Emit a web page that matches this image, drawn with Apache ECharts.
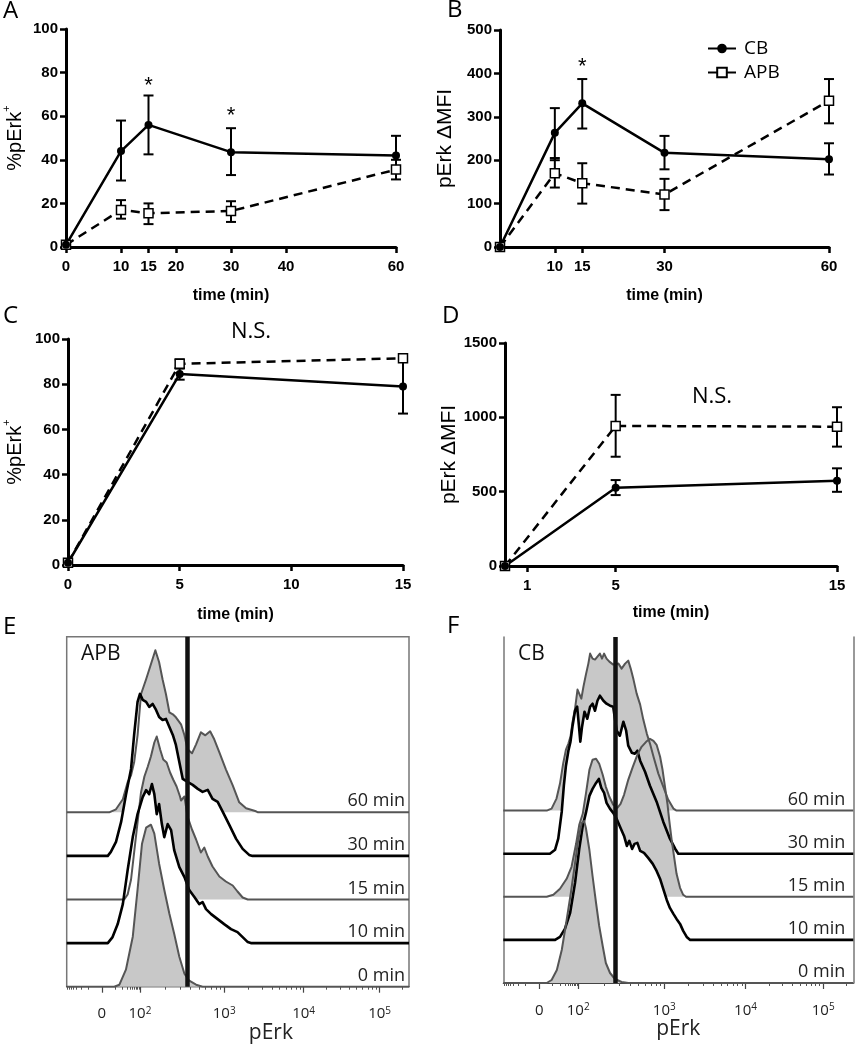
<!DOCTYPE html>
<html><head><meta charset="utf-8">
<script src="https://cdn.jsdelivr.net/npm/echarts@6.0.0/dist/echarts.min.js"></script>
<style>html,body{margin:0;padding:0;background:#fff}#c{width:858px;height:1050px}</style>
</head><body><div id="c"></div>
<script>
// ---------- Panel A / B (time course 0-60 min) ----------
const timeAB = [0, 10, 15, 30, 60];
const cbA = [1, 44, 56, 43.5, 42];
const cbAlo = [1, 30.5, 42.5, 33, 34];
const cbAhi = [1, 58, 69.5, 54.5, 51];
const apbA = [1, 17, 15.5, 16.5, 35.5];
const apbAlo = [1, 13, 10.5, 11.5, 31];
const apbAhi = [1, 21.5, 20, 21, 40];
const starsA = [[15, 74], [30, 60]];

const cbB = [0, 263, 331, 217, 202];
const cbBlo = [0, 200, 273, 179, 167];
const cbBhi = [0, 320, 387, 256, 239];
const apbB = [0, 170, 147, 121, 337];
const apbBlo = [0, 137, 100, 85, 285];
const apbBhi = [0, 205, 193, 157, 387];
const starsB = [[15, 414]];

// ---------- Panel C / D (0-15 min) ----------
const timeCD = [0, 5, 15];
const cbC = [1, 84.5, 79];
const cbClo = [1, 82, 67];
const cbChi = [1, 87, 91.5];
const apbC = [1, 89, 91.5];
const apbClo = [1, 87, 90];
const apbChi = [1, 91, 93];

const cbD = [0, 526, 573];
const cbDlo = [0, 477, 499];
const cbDhi = [0, 578, 657];
const apbD = [0, 942, 937];
const apbDlo = [0, 735, 803];
const apbDhi = [0, 1151, 1068];

// tick labels
const ticksA = [0, 10, 15, 20, 30, 40, 60];
const ticksB = [10, 15, 30, 60];
const ticksC = [0, 5, 10, 15];
const ticksD = [1, 5, 15];

// ---------- Panels E / F : histograms [channel, count] ----------
const histTickCh = [102.5, 214, 460, 692, 914];
const histTickLabels = ['0', '10|2', '10|3', '10|4', '10|5'];
const timeLabels = ['0 min', '10 min', '15 min', '30 min', '60 min'];
const thrE = 353;
const thrF = 321;

const e0 = [[0,0],[139,0],[154,2],[173,17],[193,50],[207,97],[220,143],[232,159],[246,162],[256,153],[270,123],[285,97],[300,73],[314,53],[329,30],[344,13],[358,6],[378,2],[397,0],[1000,0]];
const e10 = [[0,0],[120,0],[134,6],[149,19],[164,39],[178,73],[193,106],[207,129],[222,146],[232,153],[241,149],[249,159],[256,149],[263,129],[270,139],[278,119],[285,106],[295,119],[305,113],[314,93],[329,76],[344,66],[358,53],[373,46],[387,39],[397,41],[407,34],[422,29],[441,24],[460,19],[480,14],[499,11],[514,6],[529,1],[538,0],[1000,0]];
const e15 = [[0,0],[168,0],[178,5],[188,20],[197,47],[207,77],[217,107],[227,123],[237,133],[246,143],[256,157],[263,163],[273,150],[282,140],[292,137],[302,127],[311,120],[321,113],[331,103],[334,99],[344,103],[353,83],[366,70],[378,60],[392,47],[402,52],[412,43],[426,33],[446,23],[465,18],[485,14],[499,8],[514,2],[529,0],[1000,0]];
const e30 = [[0,0],[120,0],[129,4],[144,14],[159,34],[173,61],[188,87],[197,121],[207,154],[214,162],[222,156],[232,154],[241,149],[251,152],[261,146],[270,139],[280,136],[290,137],[300,129],[310,121],[319,111],[329,94],[339,77],[353,74],[368,71],[383,67],[397,64],[412,66],[426,57],[441,54],[456,44],[475,31],[495,17],[514,7],[533,1],[543,0],[1000,0]];
const e60 = [[0,0],[124,0],[144,3],[164,13],[178,30],[188,37],[197,50],[207,77],[217,118],[232,133],[246,148],[259,162],[270,150],[280,133],[290,118],[300,100],[310,98],[319,95],[334,88],[344,77],[353,63],[366,59],[378,68],[392,80],[405,77],[419,81],[431,73],[446,60],[465,43],[485,27],[504,10],[524,4],[553,1],[559,0],[1000,0]];

const f0 = [[0,0],[124,0],[138,3],[153,13],[167,33],[181,63],[193,90],[205,120],[214,143],[224,160],[231,162],[236,155],[246,133],[255,107],[265,80],[274,57],[284,37],[293,20],[305,10],[319,4],[338,1],[357,0],[1000,0]];
const f10 = [[0,0],[148,0],[162,3],[176,11],[191,27],[205,57],[217,91],[227,114],[236,127],[246,144],[255,151],[265,157],[273,161],[280,152],[288,147],[295,137],[305,131],[314,127],[324,121],[335,112],[345,104],[353,94],[360,99],[368,91],[375,96],[383,97],[391,89],[402,87],[414,82],[427,76],[438,69],[448,61],[457,51],[467,40],[476,32],[486,26],[495,21],[505,16],[514,9],[524,3],[534,0],[1000,0]];
const f15 = [[0,0],[124,0],[143,2],[162,8],[181,18],[195,30],[208,53],[217,72],[227,83],[236,103],[246,127],[255,137],[265,138],[274,133],[284,122],[293,110],[303,100],[314,92],[326,89],[335,93],[345,102],[357,117],[370,130],[383,142],[395,150],[408,155],[419,158],[429,156],[438,152],[448,140],[455,127],[462,110],[469,93],[474,77],[481,57],[488,40],[495,23],[505,9],[514,2],[522,0],[1000,0]];
const f30 = [[0,0],[133,0],[148,4],[157,15],[167,42],[173,68],[179,88],[186,103],[192,112],[198,128],[205,143],[211,147],[216,128],[220,112],[225,127],[232,142],[240,135],[248,147],[255,150],[262,143],[269,153],[276,158],[286,153],[295,150],[305,148],[314,147],[324,123],[333,118],[343,132],[351,123],[357,108],[367,101],[376,100],[383,103],[391,93],[405,82],[419,68],[438,52],[457,32],[476,15],[491,5],[500,0],[1000,0]];
const f60 = [[0,0],[124,0],[138,2],[152,12],[162,27],[171,47],[179,61],[186,67],[192,74],[198,89],[205,102],[212,121],[217,122],[223,112],[229,124],[236,136],[243,147],[248,157],[255,152],[262,151],[269,154],[276,157],[282,152],[288,157],[295,152],[303,149],[314,146],[329,147],[338,142],[348,147],[357,150],[364,142],[372,131],[381,117],[391,106],[400,91],[410,77],[419,67],[429,54],[443,37],[457,24],[471,11],[486,2],[495,0],[1000,0]];

const histE = [e0, e10, e15, e30, e60];
const histF = [f0, f10, f15, f30, f60];
const filled = [true, false, true, false, true];

// ---------- layout / style ----------
const stepE = 43.6, stepF = 43.1;
const SANS = 'Liberation Sans, Arial, sans-serif';
const OPEN = '"Open Sans", Lato, sans-serif';
const BOLD = {fontFamily: SANS, fontWeight: 'bold', fontSize: 15, color: '#000'};

// minor ticks for the flow axis (log-like decades)
const minorCh = [];
(function () {
  for (let m = 1; m <= 9; m++) {
    const c = 214 - (1 - Math.log10(m)) * 73;
    minorCh.push(c, 102.5 - (c - 102.5));
  }
  const maj = histTickCh.slice(1).concat([histTickCh[4] + 222]);
  for (let d = 0; d < 4; d++) {
    for (let m = 2; m <= 9; m++) minorCh.push(maj[d] + Math.log10(m) * (maj[d + 1] - maj[d]));
  }
})();
const minorTicks = minorCh.filter(c => c > 0 && c < 1000);

function xLine(grid, max, ticks, gap) {
  return {
    type: 'value', gridIndex: grid, min: 0, max: max,
    axisLine: {show: true, onZero: false, lineStyle: {color: '#000', width: 3}},
    axisTick: {show: true, customValues: ticks, length: 6, lineStyle: {color: '#000', width: 2.5}},
    axisLabel: Object.assign({show: true, customValues: ticks, margin: 12}, BOLD),
    splitLine: {show: false},
    name: 'time (min)', nameLocation: 'middle', nameGap: gap,
    nameTextStyle: Object.assign({}, BOLD, {fontSize: 16})
  };
}
function yLine(grid, max, interval, name, gap, size) {
  return {
    type: 'value', gridIndex: grid, min: 0, max: max, interval: interval,
    axisLine: {show: true, onZero: false, lineStyle: {color: '#000', width: 3}},
    axisTick: {show: true, length: 6, lineStyle: {color: '#000', width: 2.5}},
    axisLabel: Object.assign({show: true, margin: 8, formatter: v => String(v)}, BOLD),
    splitLine: {show: false},
    name: name, nameLocation: 'middle', nameGap: gap,
    nameTextStyle: {
      fontFamily: SANS, fontSize: size, color: '#000',
      rich: {
        a: {fontFamily: SANS, fontSize: size, color: '#000', lineHeight: 24, verticalAlign: 'bottom'},
        s: {fontFamily: SANS, fontSize: 11, color: '#000', lineHeight: 12, verticalAlign: 'top'}
      }
    }
  };
}
function errSeries(grid, xs, lo, hi) {
  return {
    type: 'custom', xAxisIndex: grid, yAxisIndex: grid, silent: true,
    data: xs.map((x, i) => [x, lo[i], hi[i]]),
    encode: {x: 0, y: [1, 2]},
    renderItem: function (params, api) {
      const x = api.value(0), l = api.value(1), h = api.value(2);
      if (h - l <= 0) return {type: 'group', children: []};
      const a = api.coord([x, l]), b = api.coord([x, h]);
      const w = 5, st = {stroke: '#000', lineWidth: 2};
      return {type: 'group', children: [
        {type: 'line', shape: {x1: a[0], y1: a[1], x2: b[0], y2: b[1]}, style: st},
        {type: 'line', shape: {x1: a[0] - w, y1: a[1], x2: a[0] + w, y2: a[1]}, style: st},
        {type: 'line', shape: {x1: b[0] - w, y1: b[1], x2: b[0] + w, y2: b[1]}, style: st}
      ]};
    }
  };
}
function starMark(stars) {
  return {
    silent: true, symbol: 'circle', symbolSize: 1, itemStyle: {color: 'rgba(0,0,0,0)'},
    label: {show: true, position: 'inside', formatter: '*', color: '#000', fontSize: 22, fontFamily: SANS},
    data: stars.map(s => ({coord: s}))
  };
}
function cbSeries(grid, xs, ys, stars) {
  const s = {
    type: 'line', name: 'CB', xAxisIndex: grid, yAxisIndex: grid,
    data: xs.map((x, i) => [x, ys[i]]),
    symbol: 'circle', symbolSize: 8, showSymbol: true,
    itemStyle: {color: '#000'}, lineStyle: {color: '#000', width: 2.5},
    silent: true, emphasis: {disabled: true}, z: 3
  };
  if (stars) s.markPoint = starMark(stars);
  return s;
}
function apbSeries(grid, xs, ys) {
  return {
    type: 'line', name: 'APB', xAxisIndex: grid, yAxisIndex: grid,
    data: xs.map((x, i) => [x, ys[i]]),
    symbol: 'rect', symbolSize: 9, showSymbol: true,
    itemStyle: {color: '#fff', borderColor: '#000', borderWidth: 1.5},
    lineStyle: {color: '#000', width: 2.5, type: [9, 6]},
    silent: true, emphasis: {disabled: true}, z: 3
  };
}
function xHist(grid, nameShift) {
  return {
    type: 'value', gridIndex: grid, min: 0, max: 1000, position: 'bottom',
    axisLine: {show: true, onZero: false, lineStyle: {color: '#444', width: 1.2}},
    axisTick: {show: true, customValues: histTickCh, length: 6, lineStyle: {color: '#444', width: 1.2}},
    axisLabel: {
      show: true, customValues: histTickCh, margin: 19,
      formatter: function (v) {
        let bi = 0;
        histTickCh.forEach((c, i) => { if (Math.abs(c - v) < Math.abs(histTickCh[bi] - v)) bi = i; });
        const t = histTickLabels[bi];
        if (t.indexOf('|') < 0) return '{b|' + t + '}';
        const p = t.split('|');
        return '{b|' + p[0] + '}{s|' + p[1] + '}';
      },
      rich: {
        b: {fontFamily: OPEN, fontSize: 15, color: '#222', lineHeight: 16, verticalAlign: 'bottom'},
        s: {fontFamily: OPEN, fontSize: 10, color: '#222', lineHeight: 10, verticalAlign: 'top'}
      }
    },
    splitLine: {show: false},
    name: 'pErk', nameLocation: 'middle', nameGap: 33,
    nameTextStyle: {fontFamily: OPEN, fontSize: 21, color: '#222', padding: [0, 0, 0, nameShift]}
  };
}
function xMinor(grid) {
  return {
    type: 'value', gridIndex: grid, min: 0, max: 1000, position: 'bottom',
    axisLine: {show: false}, axisLabel: {show: false}, splitLine: {show: false},
    axisTick: {show: true, customValues: minorTicks, length: 3, lineStyle: {color: '#555', width: 1}}
  };
}
function histSeries(xi, yi, curves, step, thr) {
  const out = [];
  for (let k = curves.length - 1; k >= 0; k--) {
    const off = step * k;
    const f = filled[k];
    const s = {
      type: 'line', xAxisIndex: xi, yAxisIndex: yi,
      data: curves[k].map(p => [p[0], p[1] + off]),
      symbol: 'none', smooth: false, silent: true, emphasis: {disabled: true},
      lineStyle: {color: f ? '#555' : '#000', width: f ? 2 : 2.6, join: 'round'},
      areaStyle: {color: f ? '#c8c8c8' : '#fff', opacity: 1, origin: off}
    };
    if (k === 0) {
      s.markLine = {
        silent: true, symbol: ['none', 'none'], label: {show: false},
        lineStyle: {color: '#111', width: 4.5, type: 'solid'},
        emphasis: {disabled: true},
        data: [{xAxis: thr}]
      };
    }
    out.push(s);
  }
  return out;
}

const chart = echarts.init(document.getElementById('c'), null, {renderer: 'canvas'});

const option = {
  animation: false,
  backgroundColor: '#fff',
  legend: {
    data: ['CB', 'APB'], orient: 'vertical', left: 702, top: 34,
    itemWidth: 28, itemHeight: 12, itemGap: 5, selectedMode: false,
    lineStyle: {type: 'solid', width: 2},
    textStyle: {fontFamily: OPEN, fontSize: 19, color: '#000', padding: [0, 0, 0, 3]}
  },
  grid: [
    {left: 66, top: 29, width: 330, height: 218},
    {left: 500, top: 30, width: 329, height: 217},
    {left: 66, top: 339, width: 337, height: 226},
    {left: 505, top: 343, width: 332, height: 223},
    {left: 66.7, top: 636.7, width: 342.3, height: 350, show: true, borderColor: '#777', borderWidth: 1.5, backgroundColor: 'transparent'},
    {left: 503.3, top: 637, width: 350, height: 346}
  ],
  xAxis: [
    xLine(0, 60, ticksA, 41),
    xLine(1, 60, ticksB, 41),
    xLine(2, 15, ticksC, 42),
    xLine(3, 15, ticksD, 39),
    xHist(4, 66),
    xHist(5, 0),
    xMinor(4),
    xMinor(5)
  ],
  yAxis: [
    yLine(0, 100, 20, '{a|%pErk}{s|+}', 41, 20),
    yLine(1, 500, 100, 'pErk ΔMFI', 44, 21),
    yLine(2, 100, 20, '{a|%pErk}{s|+}', 43, 20),
    yLine(3, 1500, 500, 'pErk ΔMFI', 40, 21),
    {type: 'value', gridIndex: 4, min: 0, max: 350, show: false},
    {type: 'value', gridIndex: 5, min: 0, max: 346, position: 'left',
      axisLine: {show: true, onZero: false, lineStyle: {color: '#777', width: 1.5}},
      axisTick: {show: false}, axisLabel: {show: false}, splitLine: {show: false}},
    {type: 'value', gridIndex: 5, min: 0, max: 346, position: 'right',
      axisLine: {show: true, onZero: false, lineStyle: {color: '#777', width: 1.5}},
      axisTick: {show: false}, axisLabel: {show: false}, splitLine: {show: false}}
  ],
  series: [
    errSeries(0, timeAB, cbAlo, cbAhi), errSeries(0, timeAB, apbAlo, apbAhi),
    errSeries(1, timeAB, cbBlo, cbBhi), errSeries(1, timeAB, apbBlo, apbBhi),
    errSeries(2, timeCD, cbClo, cbChi), errSeries(2, timeCD, apbClo, apbChi),
    errSeries(3, timeCD, cbDlo, cbDhi), errSeries(3, timeCD, apbDlo, apbDhi),
    apbSeries(0, timeAB, apbA), cbSeries(0, timeAB, cbA, starsA),
    apbSeries(1, timeAB, apbB), cbSeries(1, timeAB, cbB, starsB),
    apbSeries(2, timeCD, apbC), cbSeries(2, timeCD, cbC),
    apbSeries(3, timeCD, apbD), cbSeries(3, timeCD, cbD)
  ].concat(histSeries(4, 4, histE, stepE, thrE), histSeries(5, 5, histF, stepF, thrF))
};
chart.setOption(option);

// text annotations
const LET = '24px ' + OPEN;
const g = [
  {t: 'A', x: 3, y: 11}, {t: 'B', x: 447, y: 10}, {t: 'C', x: 3, y: 316},
  {t: 'D', x: 442, y: 316}, {t: 'E', x: 3, y: 627}, {t: 'F', x: 447, y: 626}
].map(o => ({type: 'text', x: o.x, y: o.y, silent: true,
  style: {text: o.t, font: LET, fill: '#000', textAlign: 'left', textVerticalAlign: 'middle'}}));
g.push({type: 'text', x: 251, y: 332, silent: true, style: {text: 'N.S.', font: '22px ' + OPEN, fill: '#000', textAlign: 'center', textVerticalAlign: 'middle'}});
g.push({type: 'text', x: 712, y: 397, silent: true, style: {text: 'N.S.', font: '22px ' + OPEN, fill: '#000', textAlign: 'center', textVerticalAlign: 'middle'}});
g.push({type: 'text', x: 81, y: 654, silent: true, style: {text: 'APB', font: '21px ' + OPEN, fill: '#111', textAlign: 'left', textVerticalAlign: 'middle'}});
g.push({type: 'text', x: 518, y: 654, silent: true, style: {text: 'CB', font: '21px ' + OPEN, fill: '#111', textAlign: 'left', textVerticalAlign: 'middle'}});
[[4, stepE, 4], [5, stepF, 8]].forEach(([gi, step, inset]) => {
  for (let k = 0; k < timeLabels.length; k++) {
    const p = chart.convertToPixel({gridIndex: gi}, [1000, step * k]);
    g.push({type: 'text', x: p[0] - inset, y: p[1] - 2, silent: true, z: 100,
      style: {text: timeLabels[k], font: '18px ' + OPEN, fill: '#222', textAlign: 'right', textVerticalAlign: 'bottom'}});
  }
});
chart.setOption({graphic: g});
</script></body></html>
